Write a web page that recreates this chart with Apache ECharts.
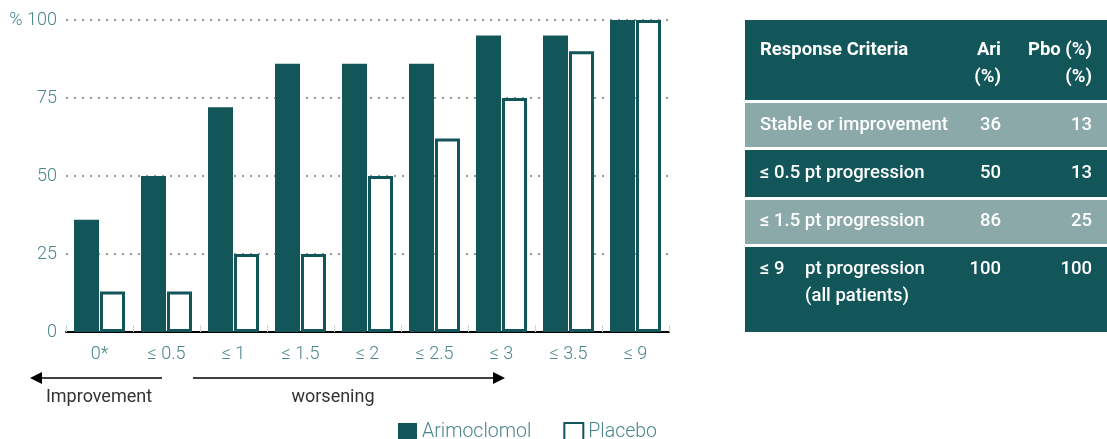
<!DOCTYPE html>
<html>
<head>
<meta charset="utf-8">
<script src="https://cdn.jsdelivr.net/npm/echarts@6/dist/echarts.min.js"></script>
<style>
  html, body { margin: 0; padding: 0; background: #fff; }
  #chart { width: 1107px; height: 439px; }
</style>
</head>
<body>
<div id="chart"></div>
<script>
// Cumulative responders by change-in-score threshold
const categories = ['0*', '≤ 0.5', '≤ 1', '≤ 1.5', '≤ 2', '≤ 2.5', '≤ 3', '≤ 3.5', '≤ 9'];
const arimoclomol = [36, 50, 72, 86, 86, 86, 95, 95, 100];
const placebo = [13, 13, 25, 25, 50, 62, 75, 90, 100];
const yTicks = [0, 25, 50, 75, 100];

// Summary table
const tableHeader = ['Response Criteria', 'Ari\n(%)', 'Pbo (%)\n(%)'];
const tableCriteria = ['Stable or improvement', '≤ 0.5 pt progression', '≤ 1.5 pt progression', '≤ 9'];
const tableCriteriaNote = ['', '', '', 'pt progression\n(all patients)'];
const tableAri = [36, 50, 86, 100];
const tablePbo = [13, 13, 25, 100];

const TEAL = '#13565a';
const LIGHT_ROW = '#8ca9a9';
const LABEL = '#4b868b';
const FONT = 'Roboto';

const chart = echarts.init(document.getElementById('chart'));

// table rows: [top, height, fill]
const rowBoxes = [
  [20, 80, TEAL],
  [103, 44, LIGHT_ROW],
  [150, 47, TEAL],
  [200, 44, LIGHT_ROW],
  [247, 85, TEAL]
];
const tableLeft = 745, tableRight = 1107;
const graphics = [];
rowBoxes.forEach(([top, h, fill]) => {
  graphics.push({
    type: 'rect', silent: true,
    shape: { x: tableLeft, y: top, width: tableRight - tableLeft, height: h },
    style: { fill: fill }
  });
});
const txt = (x, y, text, align, weight) => ({
  type: 'text', silent: true, x: x, y: y,
  style: {
    text: text, fill: '#fff', font: (weight || 500) + ' 18.5px ' + FONT,
    align: align || 'left', verticalAlign: 'middle', lineHeight: 27
  }
});
const colCrit = 760, colAri = 1001, colPbo = 1092;
graphics.push(txt(colCrit, 50, tableHeader[0], 'left', 700));
graphics.push(txt(colAri, 63.5, tableHeader[1], 'right', 700));
graphics.push(txt(colPbo, 63.5, tableHeader[2], 'right', 700));
const rowCenters = [125, 173, 221, 269];
tableCriteria.forEach((c, i) => {
  const y = rowCenters[i];
  graphics.push(txt(colCrit, y, c, 'left'));
  if (tableCriteriaNote[i]) {
    graphics.push(txt(805, y + 13.5, tableCriteriaNote[i], 'left'));
  }
  graphics.push(txt(colAri, y, String(tableAri[i]), 'right'));
  graphics.push(txt(colPbo, y, String(tablePbo[i]), 'right'));
});

// direction arrows under the axis
graphics.push(
  { type: 'line', silent: true, shape: { x1: 40, y1: 378, x2: 162, y2: 378 }, style: { stroke: '#000', lineWidth: 1.6 } },
  { type: 'polygon', silent: true, shape: { points: [[30, 378], [42, 372], [42, 384]] }, style: { fill: '#000' } },
  { type: 'line', silent: true, shape: { x1: 193, y1: 378, x2: 495, y2: 378 }, style: { stroke: '#000', lineWidth: 1.6 } },
  { type: 'polygon', silent: true, shape: { points: [[505, 378], [493, 372], [493, 384]] }, style: { fill: '#000' } },
  { type: 'text', silent: true, x: 99, y: 397, style: { text: 'Improvement', fill: '#333', font: '400 18px ' + FONT, align: 'center', verticalAlign: 'middle' } },
  { type: 'text', silent: true, x: 333, y: 397, style: { text: 'worsening', fill: '#333', font: '400 18px ' + FONT, align: 'center', verticalAlign: 'middle' } }
);

chart.setOption({
  animation: false,
  textStyle: { fontFamily: FONT },
  grid: { left: 66, right: 438, top: 20, bottom: 107, containLabel: false },
  legend: {
    left: 393, top: 417,
    icon: 'rect',
    itemWidth: 19, itemHeight: 18, itemGap: 32,
    textStyle: { color: LABEL, fontSize: 19.5, fontFamily: FONT, fontWeight: 300 },
    data: ['Arimoclomol', 'Placebo']
  },
  xAxis: {
    type: 'category',
    data: categories,
    axisLine: { lineStyle: { color: '#000', width: 2 } },
    axisTick: { show: true, inside: true, length: 7, lineStyle: { color: '#c9d8d8', width: 1 } },
    axisLabel: { color: LABEL, fontSize: 18, fontWeight: 300, margin: 13, fontFamily: FONT }
  },
  yAxis: {
    type: 'value',
    min: 0, max: 100, interval: 25,
    axisLine: { show: false },
    axisTick: { show: false },
    axisLabel: {
      color: LABEL, fontSize: 18, fontWeight: 300, margin: 9, fontFamily: FONT,
      formatter: v => (yTicks.includes(v) ? (v === 100 ? '% 100' : String(v)) : '')
    },
    splitLine: { lineStyle: { color: '#7a7a7a', width: 1.5, type: [2, 6] } }
  },
  series: [
    {
      name: 'Arimoclomol', type: 'bar', data: arimoclomol,
      barWidth: 25, barGap: '4%',
      itemStyle: { color: TEAL }
    },
    {
      name: 'Placebo', type: 'bar', data: placebo,
      barWidth: 25,
      itemStyle: { color: '#fff', borderColor: TEAL, borderWidth: 3 }
    }
  ],
  graphic: graphics
});
</script>
</body>
</html>
